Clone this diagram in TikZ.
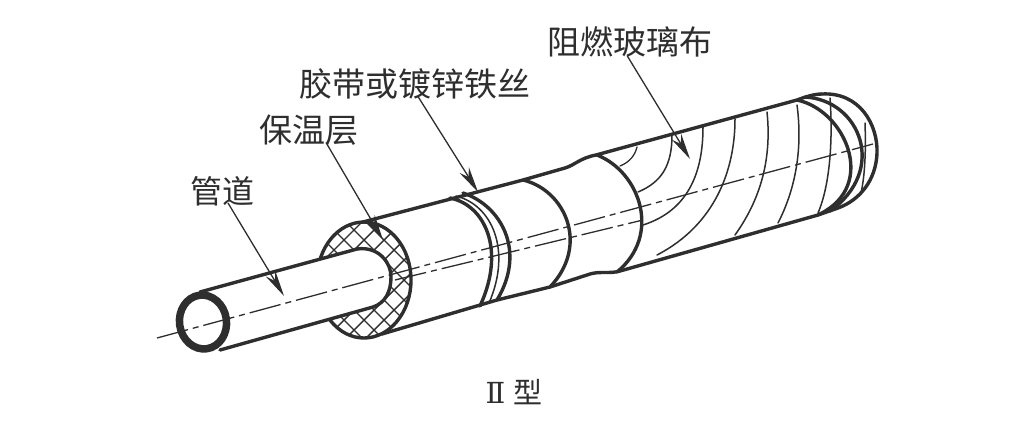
\documentclass[tikz,border=0pt]{standalone}
\usepackage{fontspec}
\usetikzlibrary{arrows.meta}
\newfontfamily\cjk{Noto Sans CJK SC}
\newfontfamily\numeralfont{DejaVu Serif}
\definecolor{ink}{HTML}{2E2E2E}
\tikzset{
  thick line/.style={draw=ink,line width=3.4pt,line cap=round,line join=round},
  thin line/.style={draw=ink,line width=1.5pt,line cap=round},
  mid line/.style={draw=ink,line width=1.3pt,line cap=round},
  axis line/.style={draw=ink,line width=1.3pt,dash pattern=on 32pt off 5pt on 6pt off 5pt},
  hatch line/.style={draw=ink,line width=1.4pt},
  leader/.style={draw=ink,line width=1.3pt,-{Stealth[length=26pt,width=11pt]}},
  lab/.style={text=ink,inner sep=0pt},
}
\begin{document}
\begin{tikzpicture}[x=1pt,y=-1pt]
\useasboundingbox (0,0) rectangle (1024,431);
\fill[white] (0,0) rectangle (1024,431);
% outer jacket outline
\draw[thick line] (363,222) -- (523,180) -- (565,168) .. controls (575,165) and (580,158) .. (596,155) -- (797,100) .. controls (805,97) and (814,94) .. (822,94);
\draw[thick line] (382,334) -- (497,300) -- (550,287) -- (590,274) .. controls (600,271) and (610,274) .. (620,271) -- (818,215);
% insulation cut face
\begin{scope}
\clip (364,280) ellipse [x radius=47, y radius=58];
\foreach \i in {-8,...,8}{
  \draw[hatch line] (364+\i*20-70,280-70) -- (364+\i*20+70,280+70);
  \draw[hatch line] (364+\i*20+70,280-70) -- (364+\i*20-70,280+70);
}
\end{scope}
\draw[thick line] (364,280) ellipse [x radius=47, y radius=58];
% inner pipe
\fill[white] (200,292) -- (357,249) .. controls (378,246) and (391,262) .. (391,277) .. controls (391,292) and (385,303) .. (373,307) -- (222,349) -- (203,322) -- cycle;
\draw[thick line] (200,292) -- (357,249) .. controls (378,246) and (391,262) .. (391,277) .. controls (391,292) and (385,303) .. (373,307) -- (220,350);
\draw[draw=ink,line width=7.5pt,fill=white] (203,322) [rotate around={8:(203,322)}] ellipse [x radius=23.5, y radius=27];
% bands
\draw[thick line] (450,198) .. controls (485,205) and (506,250) .. (480,306);
\draw[thin line] (456,196) .. controls (492,205) and (512,250) .. (489,303);
\draw[thick line] (463,193) .. controls (500,205) and (527,250) .. (497,300);
\draw[thick line] (523,180) .. controls (565,190) and (590,245) .. (550,287);
\draw[thick line] (597,155) .. controls (640,172) and (662,235) .. (617,272);
% cloth seams
\draw[mid line] (637,147) .. controls (635,155) and (630,162) .. (620,166);
\draw[thin line] (672,135) .. controls (672,165) and (662,182) .. (638,192);
\draw[thin line] (703,127) .. controls (703,170) and (690,210) .. (643,225);
\draw[thin line] (735,119) .. controls (735,170) and (715,225) .. (657,255);
\draw[thin line] (767,112) .. controls (772,160) and (760,200) .. (735,235);
\draw[thin line] (797,105) .. controls (803,150) and (795,190) .. (778,223);
\draw[thin line] (830,98) .. controls (833,140) and (830,185) .. (818,213);
\draw[thin line] (865,123) .. controls (866,150) and (865,175) .. (861,193);
% end rings
\draw[thick line] (797,100) .. controls (845,110) and (878,185) .. (820,214);
\draw[thick line] (805,97) .. controls (860,100) and (888,170) .. (830,211);
\draw[thick line] (822,94) .. controls (860,92) and (878,125) .. (877,153) .. controls (876,180) and (860,200) .. (838,208) -- (818,215);
% axis lines
\coordinate (axisA) at (157,338);
\coordinate (axisB) at (873,144);
\coordinate (axisC) at (395,280);
\coordinate (axisD) at (643,220);
\draw[axis line] (axisA) -- (axisB);
\draw[axis line] (axisC) -- (axisD);
% labels
\node[lab,font=\cjk\fontsize{32}{34}\selectfont] (lguan) at (222,191) {管道};
\node[lab,font=\cjk\fontsize{33}{35}\selectfont] (lbao) at (309,130) {保温层};
\node[lab,font=\cjk\fontsize{33}{35}\selectfont] (ljiao) at (415,84) {胶带或镀锌铁丝};
\node[lab,font=\cjk\fontsize{33}{35}\selectfont] (lzu) at (630,42) {阻燃玻璃布};
\node[lab,font=\cjk\fontsize{29}{31}\selectfont] (ltype) at (514,392) {{\numeralfont Ⅱ}\hspace{8pt}型};
% leaders
\coordinate (tguan) at (284,296);
\coordinate (tbao) at (383,240);
\coordinate (tjiao) at (478,192);
\coordinate (tzu) at (690,159);
\draw[leader] ([xshift=6pt,yshift=3pt]lguan.south) -- (tguan);
\draw[leader] ([xshift=17pt,yshift=3pt]lbao.south) -- (tbao);
\draw[leader] ([xshift=3pt,yshift=3pt]ljiao.south) -- (tjiao);
\draw[leader] ([xshift=-3pt,yshift=2pt]lzu.south) -- (tzu);
\end{tikzpicture}
\end{document}
